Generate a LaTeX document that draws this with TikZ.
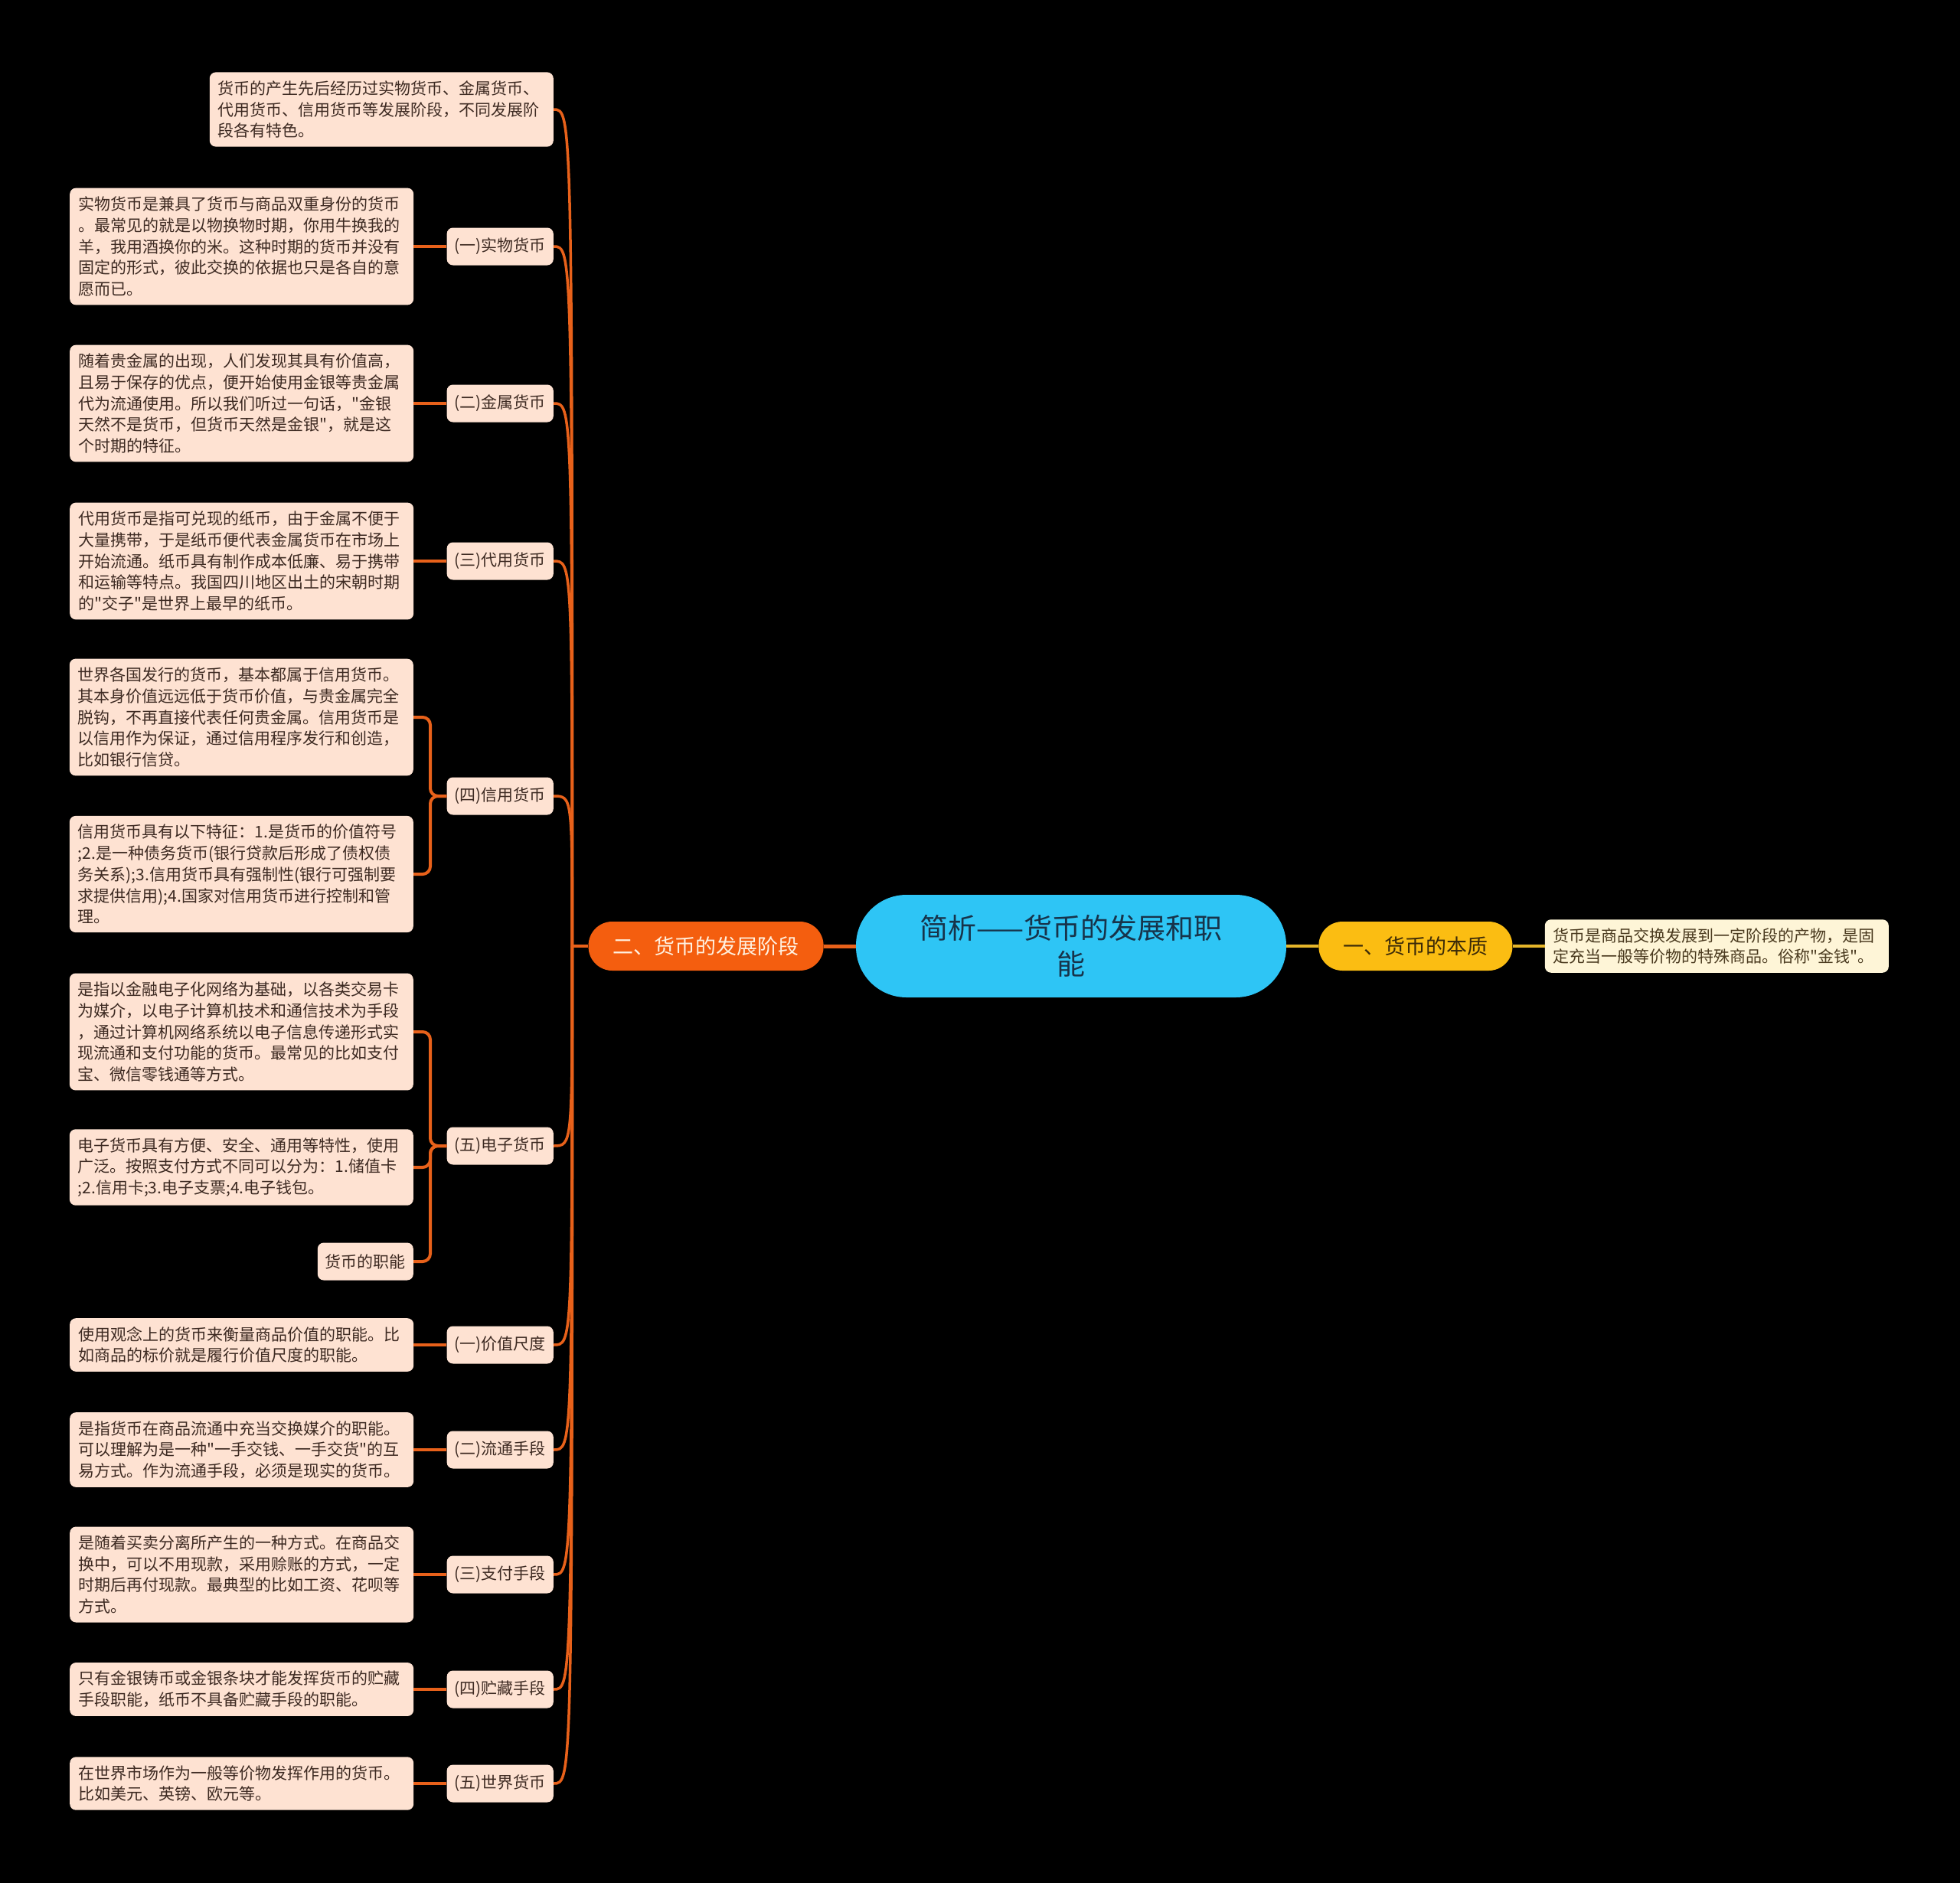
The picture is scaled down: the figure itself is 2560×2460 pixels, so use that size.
\documentclass[tikz,border=0pt]{standalone}
\usepackage{fontspec}
\newfontfamily\zhfont{Noto Sans CJK SC}
\usetikzlibrary{positioning}

\definecolor{rootblue}{HTML}{2EC5F5}
\definecolor{rootink}{HTML}{17334A}
\definecolor{amber}{HTML}{FBBD12}
\definecolor{amberink}{HTML}{3B2A08}
\definecolor{cream}{HTML}{FEF5D7}
\definecolor{creamink}{HTML}{4A3A1F}
\definecolor{devorange}{HTML}{F45E0F}
\definecolor{devink}{HTML}{FFF1E0}
\definecolor{peach}{HTML}{FEE2D2}
\definecolor{peachink}{HTML}{3D2A22}
\definecolor{lineorange}{HTML}{E8611A}
\definecolor{lineyellow}{HTML}{E5B52A}

\begin{document}
\begin{tikzpicture}[
    x=1pt, y=-1pt,
    node distance=42pt,
    root/.style={
        fill=rootblue,
        text=rootink,
        rounded corners=66pt,
        minimum width=562pt,
        minimum height=134pt,
        align=center,
        font=\zhfont\fontsize{37}{47}\selectfont
    },
    branch/.style={
        rounded corners=31pt,
        minimum height=64pt,
        inner xsep=32pt,
        font=\zhfont\fontsize{27}{32}\selectfont
    },
    item/.style={
        fill=peach,
        text=peachink,
        rounded corners=8pt,
        minimum height=49pt,
        inner xsep=10pt,
        font=\zhfont\fontsize{21}{26}\selectfont
    },
    leaf/.style={
        fill=peach,
        text=peachink,
        rounded corners=8pt,
        align=left,
        text width=427pt,
        inner xsep=11pt,
        inner ysep=11pt,
        font=\zhfont\fontsize{21}{27.8}\selectfont
    },
    trunk/.style={draw=lineorange, line width=3.5pt},
    twig/.style={draw=lineorange, line width=4pt, rounded corners=10pt}
]
\fill[black] (0,0) rectangle (2560,2460);

\node[root] (root) at (1399,1236) {简析——货币的发展和职\\能};
\node[branch, fill=devorange, text=devink, left=of root] (dev) {二、货币的发展阶段};
\node[branch, fill=amber, text=amberink, right=of root] (ess) {一、货币的本质};
\node[leaf, fill=cream, text=creamink, right=of ess] (essleaf) {货币是商品交换发展到一定阶段的产物，是固\\定充当一般等价物的特殊商品。俗称"金钱"。};

\draw[line width=5pt, lineorange] (root) -- (dev);
\draw[line width=4pt, lineyellow] (root) -- (ess);
\draw[line width=4pt, lineyellow] (ess) -- (essleaf);

\node[leaf, anchor=east] (orig) at (723,143) {货币的产生先后经历过实物货币、金属货币、\\代用货币、信用货币等发展阶段，不同发展阶\\段各有特色。};

\node[item, anchor=east] (s1) at (723,322) {(一)实物货币};
\node[item, anchor=east] (s2) at (723,527) {(二)金属货币};
\node[item, anchor=east] (s3) at (723,733) {(三)代用货币};
\node[item, anchor=east] (s4) at (723,1040) {(四)信用货币};
\node[item, anchor=east] (s5) at (723,1497) {(五)电子货币};
\node[item, anchor=east] (f1) at (723,1757) {(一)价值尺度};
\node[item, anchor=east] (f2) at (723,1894) {(二)流通手段};
\node[item, anchor=east] (f3) at (723,2057) {(三)支付手段};
\node[item, anchor=east] (f4) at (723,2207) {(四)贮藏手段};
\node[item, anchor=east] (f5) at (723,2330) {(五)世界货币};

\node[leaf, left=43pt of s1] (l1) {实物货币是兼具了货币与商品双重身份的货币\\。最常见的就是以物换物时期，你用牛换我的\\羊，我用酒换你的米。这种时期的货币并没有\\固定的形式，彼此交换的依据也只是各自的意\\愿而已。};
\node[leaf, left=43pt of s2] (l2) {随着贵金属的出现，人们发现其具有价值高，\\且易于保存的优点，便开始使用金银等贵金属\\代为流通使用。所以我们听过一句话，"金银\\天然不是货币，但货币天然是金银"，就是这\\个时期的特征。};
\node[leaf, left=43pt of s3] (l3) {代用货币是指可兑现的纸币，由于金属不便于\\大量携带，于是纸币便代表金属货币在市场上\\开始流通。纸币具有制作成本低廉、易于携带\\和运输等特点。我国四川地区出土的宋朝时期\\的"交子"是世界上最早的纸币。};
\node[leaf, anchor=east] (l4a) at (540,937) {世界各国发行的货币，基本都属于信用货币。\\其本身价值远远低于货币价值，与贵金属完全\\脱钩，不再直接代表任何贵金属。信用货币是\\以信用作为保证，通过信用程序发行和创造，\\比如银行信贷。};
\node[leaf, anchor=east] (l4b) at (540,1142) {信用货币具有以下特征：1.是货币的价值符号\\;2.是一种债务货币(银行贷款后形成了债权债\\务关系);3.信用货币具有强制性(银行可强制要\\求提供信用);4.国家对信用货币进行控制和管\\理。};
\node[leaf, anchor=east] (l5a) at (540,1348) {是指以金融电子化网络为基础，以各类交易卡\\为媒介，以电子计算机技术和通信技术为手段\\，通过计算机网络系统以电子信息传递形式实\\现流通和支付功能的货币。最常见的比如支付\\宝、微信零钱通等方式。};
\node[leaf, anchor=east] (l5b) at (540,1525) {电子货币具有方便、安全、通用等特性，使用\\广泛。按照支付方式不同可以分为：1.储值卡\\;2.信用卡;3.电子支票;4.电子钱包。};
\node[item, anchor=east] (l5c) at (540,1648) {货币的职能};
\node[leaf, left=43pt of f1] (g1) {使用观念上的货币来衡量商品价值的职能。比\\如商品的标价就是履行价值尺度的职能。};
\node[leaf, left=43pt of f2] (g2) {是指货币在商品流通中充当交换媒介的职能。\\可以理解为是一种"一手交钱、一手交货"的互\\易方式。作为流通手段，必须是现实的货币。};
\node[leaf, left=43pt of f3] (g3) {是随着买卖分离所产生的一种方式。在商品交\\换中，可以不用现款，采用赊账的方式，一定\\时期后再付现款。最典型的比如工资、花呗等\\方式。};
\node[leaf, left=43pt of f4] (g4) {只有金银铸币或金银条块才能发挥货币的贮藏\\手段职能，纸币不具备贮藏手段的职能。};
\node[leaf, left=43pt of f5] (g5) {在世界市场作为一般等价物发挥作用的货币。\\比如美元、英镑、欧元等。};

\coordinate[left=21pt of dev.west] (hub);
\draw[trunk] (dev.west) -- (hub);
\foreach \k in {orig,s1,s2,s3,s4,s5,f1,f2,f3,f4,f5}
    \draw[trunk] (hub) .. controls (hub |- \k.east) .. (\k.east);

\foreach \a/\b in {l1/s1,l2/s2,l3/s3,g1/f1,g2/f2,g3/f3,g4/f4,g5/f5}
    \draw[twig] (\a.east) -- (\b.west);
\foreach \a in {l4a,l4b}
    \draw[twig] (\a.east) -- ++(22,0) |- (s4.west);
\foreach \a in {l5a,l5b,l5c}
    \draw[twig] (\a.east) -- ++(22,0) |- (s5.west);
\end{tikzpicture}
\end{document}
